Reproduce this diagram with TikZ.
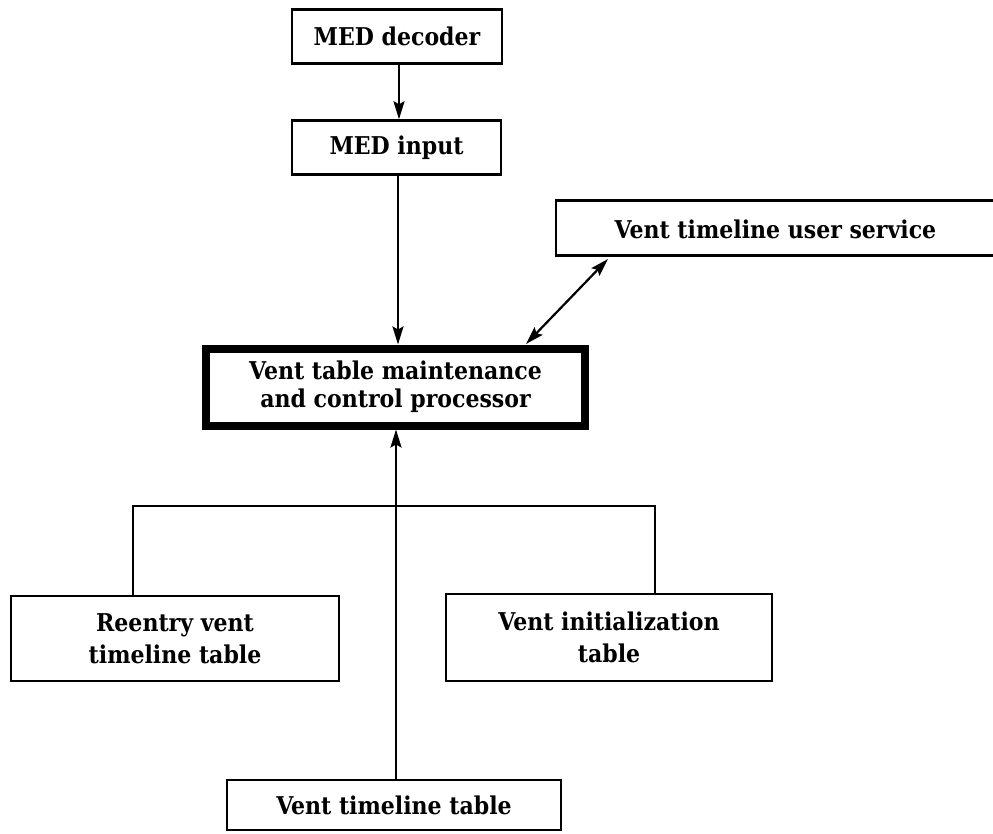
\documentclass[tikz,border=0pt]{standalone}
\usepackage{fontspec}
\setmainfont{DejaVu Serif Condensed}
\usetikzlibrary{arrows.meta}
\begin{document}
\begin{tikzpicture}[x=1pt,y=-1pt,
  box/.style={draw, line width=2.4pt, inner sep=0pt, align=center,
    font=\fontsize{24.5}{32}\selectfont\bfseries},
  procbox/.style={box, line width=8pt, font=\fontsize{24.5}{28}\selectfont\bfseries},
  conn/.style={line width=2.2pt},
  arr/.style={conn, -{Stealth[length=18pt,width=11pt,inset=3pt]}},
  darr/.style={conn, {Stealth[length=18pt,width=11pt,inset=3pt]}-{Stealth[length=18pt,width=11pt,inset=3pt]}}]
\fill[white] (0,0) rectangle (993,834);
\useasboundingbox (0,0) rectangle (993,834);
\clip (0,0) rectangle (993,834);

\node[box, minimum width=210pt, minimum height=54pt] (dec) at (397,36.5) {MED decoder};
\node[box, minimum width=209pt, minimum height=54pt] (inp) at (396.5,147.5) {MED input};
\node[box, minimum width=444pt, minimum height=55pt] (user) at (778,228) {};
\node[font=\fontsize{24.5}{32}\selectfont\bfseries] (usertext) at (775.5,229) {Vent timeline user service};
\node[procbox, minimum width=379pt, minimum height=77pt] (proc) at (395.5,387) {Vent table maintenance\\and control processor};
\node[box, minimum width=328pt, minimum height=85pt] (reentry) at (175,638.5) {Reentry vent\\timeline table};
\node[box, minimum width=326pt, minimum height=87pt] (init) at (609,637.5) {Vent initialization\\table};
\node[box, minimum width=334pt, minimum height=50pt] (vtt) at (394,805) {Vent timeline table};

\coordinate (hl) at (133,506);
\coordinate (hr) at (655,506);
\coordinate (pa) at (526,344);
\coordinate (ua) at (608,259);

\draw[arr] (dec.south -| 399,0) -- (inp.north -| 399,0);
\draw[arr] (inp.south -| 398,0) -- (proc.north -| 398,0);
\draw[darr] (pa) -- (ua);
\draw[arr] (vtt.north -| 396,0) -- (proc.south -| 396,0);
\draw[conn] (hl |- reentry.north) -- (hl) -- (hr) -- (hr |- init.north);
\end{tikzpicture}
\end{document}
